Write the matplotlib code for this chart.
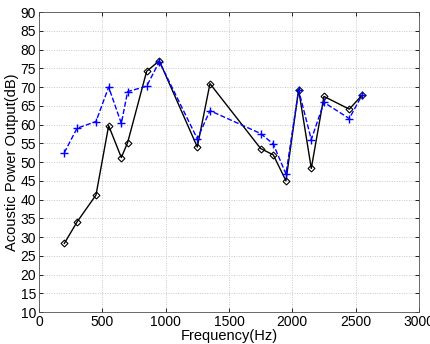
import matplotlib
matplotlib.use('Agg')
import matplotlib.pyplot as plt

matplotlib.rcParams['font.family'] = 'sans-serif'
matplotlib.rcParams['font.sans-serif'] = ['Liberation Sans', 'DejaVu Sans']

# ── Data ──────────────────────────────────────────────────────────────────────
freq = [200, 300, 450, 550, 650, 700, 850, 950, 1250, 1350,
        1750, 1850, 1950, 2050, 2150, 2250, 2450, 2550]
black_db = [28.3, 34.0, 41.2, 59.7, 51.2, 55.2, 74.2, 77.0, 54.0, 70.9,
            53.6, 51.9, 45.0, 69.3, 48.3, 67.5, 64.1, 67.8]
blue_db = [52.5, 59.0, 60.8, 70.0, 60.3, 68.8, 70.2, 76.8, 56.2, 63.7,
           57.6, 54.8, 46.8, 69.2, 56.0, 65.9, 61.6, 67.8]

xticks = [0, 500, 1000, 1500, 2000, 2500, 3000]
yticks = list(range(10, 95, 5))

fig = plt.figure(figsize=(4.31, 3.44), dpi=100)
ax = fig.add_axes([0.0905, 0.093, 0.8815, 0.872])

ax.plot(freq, black_db, color='black', lw=1.0, ls='-', marker='D',
        ms=3.5, mfc='none', mec='black', mew=0.8)
ax.plot(freq, blue_db, color='blue', lw=1.0, ls='--', marker='+',
        ms=6, mew=1.0)

ax.set_xlim(0, 3000)
ax.set_ylim(10, 90)
ax.set_xticks(xticks)
ax.set_yticks(yticks)
ax.set_xlabel('Frequency(Hz)', fontsize=10.5, labelpad=0)
ax.set_ylabel('Acoustic Power Output(dB)', fontsize=10.5, labelpad=1)
ax.tick_params(direction='in', top=True, right=True, labelsize=10,
               length=3, width=0.6, pad=2)
ax.grid(True, color='#c8c8c8', ls=(0, (1, 1.5)), lw=0.7)
for sp in ax.spines.values():
    sp.set_linewidth(0.6)
    sp.set_color('#505050')

fig.savefig('out.png', dpi=100)
